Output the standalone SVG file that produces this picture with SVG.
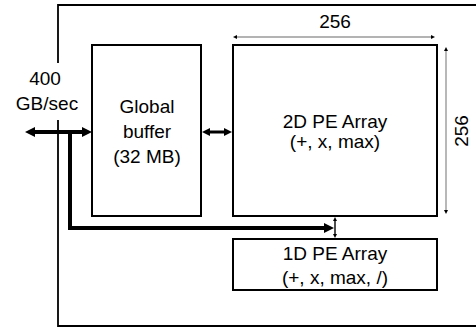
<svg xmlns="http://www.w3.org/2000/svg" width="476" height="331" viewBox="0 0 476 331">
<style>
.box{fill:#fff;stroke:#000;stroke-width:2}
.frame{fill:none;stroke:#000;stroke-width:1.8}
.t{font-family:"Liberation Sans",Arial,sans-serif;font-size:19px;fill:#000;text-anchor:middle}
.thick{fill:none;stroke:#000;stroke-width:4}
.dim{fill:none;stroke:#9a9a9a;stroke-width:1.4}
</style>
<defs>
<marker id="big" viewBox="0 0 10 10" refX="0" refY="5" markerWidth="10" markerHeight="11" markerUnits="userSpaceOnUse" orient="auto-start-reverse"><path d="M0,0 L10,5 L0,10 z" fill="#000"/></marker>
<marker id="mid" viewBox="0 0 10 10" refX="0" refY="5" markerWidth="8" markerHeight="9" markerUnits="userSpaceOnUse" orient="auto-start-reverse"><path d="M0,0 L10,5 L0,10 z" fill="#000"/></marker>
<marker id="sm" viewBox="0 0 10 10" refX="0" refY="5" markerWidth="4" markerHeight="4" markerUnits="userSpaceOnUse" orient="auto-start-reverse"><path d="M0,0 L10,5 L0,10 z" fill="#000"/></marker>
</defs>
<rect width="476" height="331" fill="#fff"/>
<g id="frame">
<path class="frame" d="M58,63 V5 H476"/>
<path class="frame" d="M58,120 V326 H476"/>
</g>
<g id="bandwidth-label">
<text class="t" x="45" y="85">400</text>
<text class="t" x="47" y="110">GB/sec</text>
</g>
<g id="global-buffer">
<rect class="box" x="92" y="45" width="109" height="171"/>
<text class="t" x="147" y="113">Global</text>
<text class="t" x="147" y="138">buffer</text>
<text class="t" x="147" y="163">(32 MB)</text>
</g>
<g id="pe-2d">
<rect class="box" x="233" y="45" width="204" height="171"/>
<text class="t" x="335" y="128">2D PE Array</text>
<text class="t" x="335" y="148">(+, x, max)</text>
</g>
<g id="pe-1d">
<rect class="box" x="233" y="239" width="204" height="51"/>
<text class="t" x="335" y="260">1D PE Array</text>
<text class="t" x="335" y="284">(+, x, max, /)</text>
</g>
<g id="dimensions">
<line class="dim" x1="237" y1="37" x2="431" y2="37" marker-start="url(#sm)" marker-end="url(#sm)"/>
<text class="t" x="335" y="28">256</text>
<line class="dim" x1="446" y1="51" x2="446" y2="210" marker-start="url(#sm)" marker-end="url(#sm)"/>
<text class="t" transform="translate(468,131) rotate(-90)" x="0" y="0">256</text>
</g>
<g id="connectors">
<line class="thick" x1="35" y1="132" x2="82" y2="132" marker-start="url(#big)" marker-end="url(#big)"/>
<line fill="none" stroke="#000" stroke-width="3" x1="210" y1="132" x2="224" y2="132" marker-start="url(#mid)" marker-end="url(#mid)"/>
<path class="thick" d="M70,132 V228 H324" marker-end="url(#big)"/>
<line fill="none" stroke="#000" stroke-width="1.4" x1="335" y1="221" x2="335" y2="234" marker-start="url(#sm)" marker-end="url(#sm)"/>
</g>
</svg>
